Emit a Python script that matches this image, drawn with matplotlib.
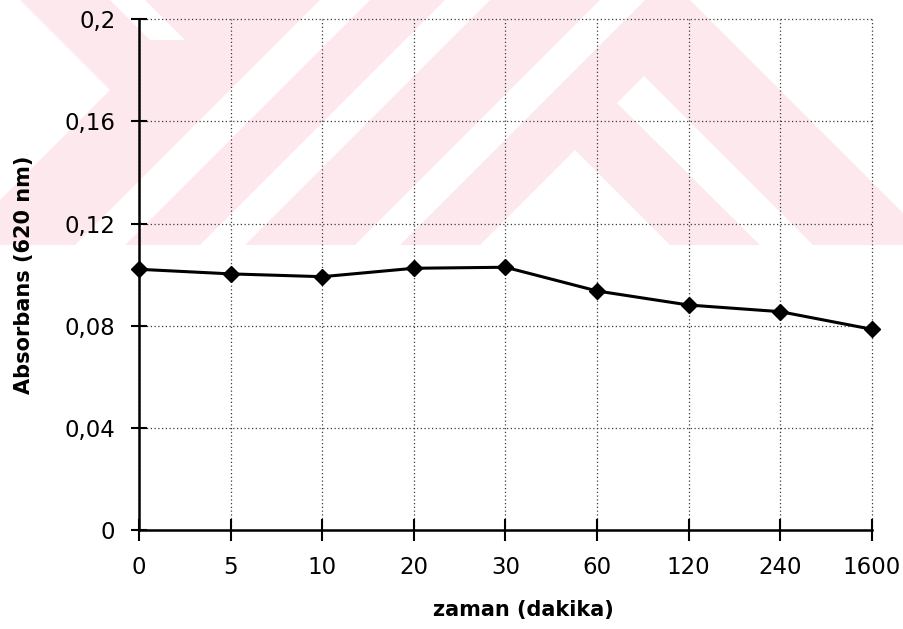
import matplotlib
matplotlib.use("Agg")
import matplotlib.pyplot as plt
from matplotlib.patches import Polygon, Rectangle

# data
categories = ["0", "5", "10", "20", "30", "60", "120", "240", "1600"]
absorbance = [0.1021, 0.1003, 0.0992, 0.1025, 0.1029, 0.0936, 0.0881, 0.0855, 0.0786]
y_ticks = [0, 0.04, 0.08, 0.12, 0.16, 0.2]
y_tick_labels = ["0", "0,04", "0,08", "0,12", "0,16", "0,2"]

W, H = 904, 629
fig = plt.figure(figsize=(W / 100, H / 100), dpi=100, facecolor="white")

# faint pink watermark behind the chart (pixel coords, y from top)
bg = fig.add_axes([0, 0, 1, 1], zorder=0)
bg.set_xlim(0, W)
bg.set_ylim(H, 0)
bg.axis("off")
pink = "#fde9ed"
bg.add_patch(Rectangle((0, 0), W, 245, facecolor=pink, edgecolor="none"))
white_shapes = [
    [(0, -20), (110, 90), (0, 200)],
    [(105, -5), (140, -5), (185, 40), (150, 40)],
    [(320, 0), (370, 0), (125, 245), (75, 245)],
    [(445, 0), (490, 0), (245, 245), (200, 245)],
    [(600, 0), (645, 0), (400, 245), (355, 245)],
    [(575, 150), (670, 245), (480, 245)],
    [(617, 103), (644, 76), (813, 245), (760, 245)],
    [(690, 0), (W, 0), (W, 214)],
]
for pts in white_shapes:
    bg.add_patch(Polygon(pts, closed=True, facecolor="white", edgecolor="none"))

ax = fig.add_axes([139 / W, 1 - 530 / H, (872 - 139) / W, (530 - 19.3) / H], zorder=1)
ax.patch.set_alpha(0)

x = list(range(len(categories)))
ax.plot(x, absorbance, color="black", lw=2.2, marker="D", markersize=8.5, zorder=3,
        clip_on=False)

ax.set_xlim(0, len(categories) - 1)
ax.set_ylim(0, 0.2)
ax.set_xticks(x)
ax.set_xticklabels(categories)
ax.set_yticks(y_ticks)
ax.set_yticklabels(y_tick_labels)

for lab in ax.get_xticklabels() + ax.get_yticklabels():
    lab.set_family("DejaVu Sans")
    lab.set_fontsize(16.5)

ax.tick_params(axis="x", direction="inout", length=16, width=1.5, pad=11)
ax.tick_params(axis="y", direction="inout", length=12, width=1.5, pad=11)

ax.grid(True, color="#3a3a3a", linestyle=(0, (1, 2)), linewidth=0.9)
for gl in ax.get_xgridlines() + ax.get_ygridlines():
    gl.set_clip_on(False)
for side in ["top", "right"]:
    ax.spines[side].set_visible(False)
for side in ["left", "bottom"]:
    ax.spines[side].set_linewidth(1.8)

fig.text(523 / W, 1 - 610 / H, "zaman (dakika)", ha="center", va="center",
         fontsize=15, fontweight="bold", family="DejaVu Sans")
fig.text(24 / W, 1 - 274.5 / H, "Absorbans (620 nm)", ha="center", va="center",
         rotation=90, fontsize=15, fontweight="bold", family="DejaVu Sans")

fig.savefig("out.png", dpi=100)
